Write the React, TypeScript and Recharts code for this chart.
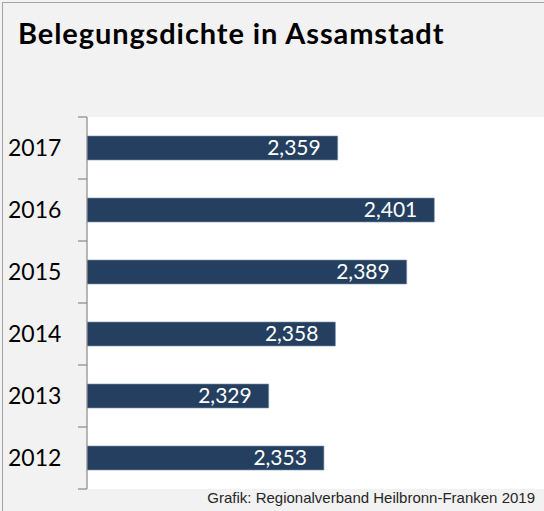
import React from 'react';
import { BarChart, Bar, XAxis, YAxis, CartesianGrid, LabelList } from 'recharts';

const years = ['2017', '2016', '2015', '2014', '2013', '2012'];
const dichte = [2.359, 2.401, 2.389, 2.358, 2.329, 2.353];
const xDomain = [2.25, 2.45];

const data = years.map((year, i) => ({ year, value: dichte[i] }));

const PLOT_TOP = 117;
const PLOT_BOTTOM = 489;
const HALF_BAND = (PLOT_BOTTOM - PLOT_TOP) / years.length / 2;

const fmt = (v: any) => Number(v).toFixed(3).replace('.', ',');

// year label + Excel-style tick marks between the categories
const YearTick = ({ y, payload, index }: any) => (
  <g>
    <text x={8} y={y} dy={8} fontSize={23} fontFamily="Lato" fill="#000" textAnchor="start">
      {payload.value}
    </text>
    <line x1={78} x2={87} y1={y - HALF_BAND} y2={y - HALF_BAND} stroke="#898989" strokeWidth={1.2} />
    {index === years.length - 1 && (
      <line x1={78} x2={87} y1={y + HALF_BAND} y2={y + HALF_BAND} stroke="#898989" strokeWidth={1.2} />
    )}
  </g>
);

export default function App() {
  return (
    <div style={{ position: 'absolute', left: 0, top: 0, width: 544, height: 511, overflow: 'hidden', background: '#f2f2f2' }}>
      <div style={{ position: 'absolute', left: 2, top: 2, width: 700, height: 700, border: '1px solid #a3a3a3' }} />
      <div style={{
        position: 'absolute', left: 18, top: 17, fontFamily: 'Lato', fontWeight: 700,
        fontSize: 29, letterSpacing: 0.9, color: '#000', whiteSpace: 'nowrap', lineHeight: '32px',
      }}>
        Belegungsdichte in Assamstadt
      </div>
      <div style={{ position: 'absolute', left: 0, top: 0 }}>
        <BarChart
          width={547}
          height={511}
          data={data}
          layout="vertical"
          margin={{ top: PLOT_TOP, bottom: 511 - PLOT_BOTTOM, left: 0, right: 0 }}
        >
          <CartesianGrid fill="#ffffff" stroke="none" horizontal={false} vertical={false} />
          <XAxis type="number" domain={xDomain} allowDataOverflow hide />
          <YAxis
            type="category"
            dataKey="year"
            width={87}
            axisLine={{ stroke: '#898989', strokeWidth: 1.2 }}
            tickLine={false}
            tick={<YearTick />}
          />
          <Bar dataKey="value" fill="#243f60" stroke="#7d90aa" strokeWidth={0.6} barSize={24} isAnimationActive={false}>
            <LabelList
              dataKey="value"
              position="insideRight"
              offset={17}
              formatter={fmt}
              fill="#ffffff"
              fontSize={21}
              fontFamily="Lato"
            />
          </Bar>
        </BarChart>
      </div>
      <div style={{
        position: 'absolute', right: 9, top: 489, fontFamily: '"Liberation Sans", Arial, sans-serif',
        fontSize: 15, color: '#262626', whiteSpace: 'nowrap', lineHeight: '18px',
      }}>
        Grafik: Regionalverband Heilbronn-Franken 2019
      </div>
    </div>
  );
}
